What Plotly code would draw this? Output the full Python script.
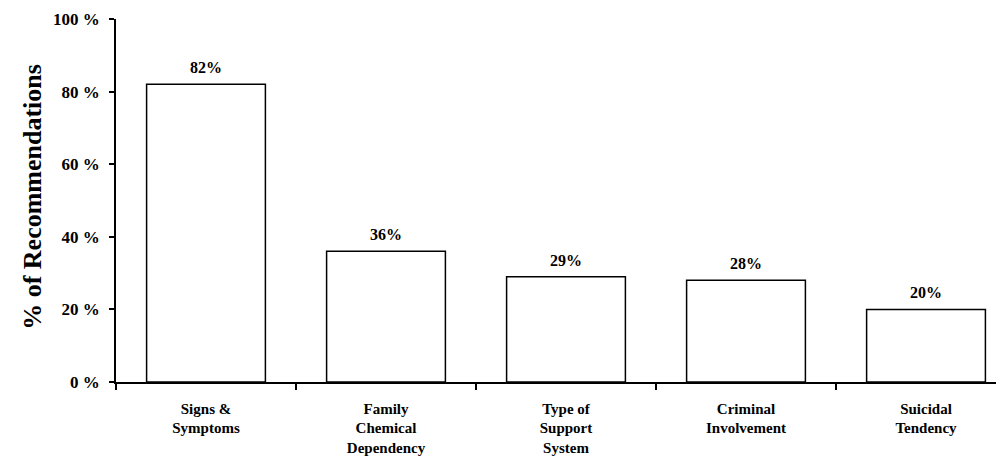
import plotly.graph_objects as go

categories = ["Signs &<br>Symptoms", "Family<br>Chemical<br>Dependency",
              "Type of<br>Support<br>System", "Criminal<br>Involvement",
              "Suicidal<br>Tendency"]
values = [82, 36, 29, 28, 20]
y_ticks = [0, 20, 40, 60, 80, 100]
y_tick_labels = ["0 %", "20 %", "40 %", "60 %", "80 %", "100 %"]

FONT = "Liberation Serif"

fig = go.Figure()
fig.add_trace(go.Bar(
    x=categories, y=values,
    width=0.66,
    marker=dict(color="white", line=dict(color="black", width=1.5)),
    hoverinfo="skip",
))

annotations = [dict(
    x=c, y=v, xref="x", yref="y", text=f"<b>{v}%</b>",
    showarrow=False, yanchor="bottom", xanchor="center", yshift=6,
    font=dict(family=FONT, size=16, color="black"),
) for c, v in zip(categories, values)]

annotations.append(dict(
    text="<b>% of Recommendations</b>", textangle=-90,
    xref="paper", yref="paper", x=-0.0935, y=0.51,
    showarrow=False, font=dict(family=FONT, size=26, color="black"),
    xanchor="center", yanchor="middle",
))

fig.update_layout(
    width=996, height=462,
    margin=dict(l=108, r=0, t=11, b=88),
    paper_bgcolor="white", plot_bgcolor="white",
    showlegend=False,
    font=dict(family=FONT, color="black"),
    xaxis=dict(
        range=[-0.5, 4.4333],
        showline=True, linecolor="black", linewidth=1.5,
        ticks="outside", ticklen=6, tickcolor="black", tickwidth=1.5,
        tickson="boundaries",
        tickfont=dict(family=FONT, size=15, color="black"),
        ticklabelstandoff=12,
        showgrid=False, zeroline=False,
    ),
    yaxis=dict(
        range=[0, 100],
        tickvals=y_ticks, ticktext=[f"<b>{t}</b>" for t in y_tick_labels],
        showline=True, linecolor="black", linewidth=1.5,
        ticks="outside", ticklen=5, tickcolor="black", tickwidth=1.5,
        tickfont=dict(family=FONT, size=17, color="black"),
        ticklabelstandoff=6,
        showgrid=False, zeroline=False,
    ),
    annotations=annotations,
)

fig.update_xaxes(ticktext=[f"<b>{c}</b>" for c in categories], tickvals=categories)

fig.write_html("out.html")
